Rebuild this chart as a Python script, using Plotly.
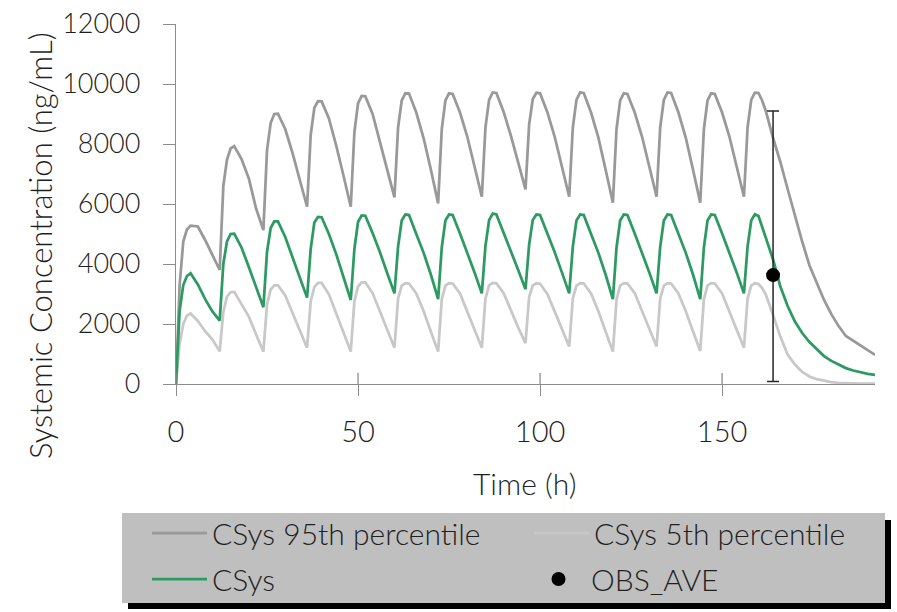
import plotly.graph_objects as go

# ---------------- data ----------------
TIME = [
    0, 1, 2, 3, 4, 6, 8, 10,
    12, 13, 14, 15, 16, 18, 20, 22,
    24, 25, 26, 27, 28, 30, 32, 34,
    36, 37, 38, 39, 40, 42, 44, 46,
    48, 49, 50, 51, 52, 54, 56, 58,
    60, 61, 62, 63, 64, 66, 68, 70,
    72, 73, 74, 75, 76, 78, 80, 82,
    84, 85, 86, 87, 88, 90, 92, 94,
    96, 97, 98, 99, 100, 102, 104, 106,
    108, 109, 110, 111, 112, 114, 116, 118,
    120, 121, 122, 123, 124, 126, 128, 130,
    132, 133, 134, 135, 136, 138, 140, 142,
    144, 145, 146, 147, 148, 150, 152, 154,
    156, 157, 158, 159, 160, 161, 162, 164, 166, 168, 170, 172, 174, 176,
    178, 180, 182, 184, 186, 188, 190, 192,
]

CSYS_P95 = [
    0, 3300, 4750, 5150, 5280, 5250, 4800, 4300,
    3800, 6600, 7470, 7850, 7930, 7500, 6850, 5850,
    5130, 7800, 8700, 9000, 9010, 8500, 7700, 6800,
    5910, 8300, 9200, 9430, 9420, 8850, 7950, 6950,
    5910, 8400, 9350, 9600, 9590, 9000, 8100, 7150,
    6220, 8550, 9450, 9690, 9680, 9050, 8200, 7150,
    6020, 8500, 9450, 9690, 9670, 9050, 8250, 7250,
    6240, 8550, 9470, 9720, 9700, 9070, 8270, 7380,
    6490, 8650, 9500, 9710, 9690, 9060, 8250, 7250,
    6240, 8550, 9470, 9720, 9700, 9050, 8220, 7150,
    6040, 8500, 9450, 9690, 9670, 9050, 8250, 7250,
    6240, 8550, 9470, 9720, 9700, 9050, 8220, 7150,
    6040, 8500, 9450, 9690, 9670, 9050, 8250, 7250,
    6240, 8550, 9470, 9710, 9700, 9450, 9100, 8200, 7400, 6500, 5600, 4750, 3950, 3350,
    2800, 2330, 1930, 1600, 1450, 1300, 1130, 970,
]

CSYS_P05 = [
    0, 1350, 2000, 2280, 2350, 2100, 1760, 1480,
    1090, 2400, 2910, 3060, 3070, 2650, 2250, 1650,
    1080, 2650, 3150, 3290, 3290, 2950, 2350, 1780,
    1210, 2750, 3230, 3370, 3370, 2990, 2370, 1720,
    1080, 2750, 3250, 3390, 3390, 3030, 2420, 1800,
    1210, 2850, 3280, 3360, 3350, 3020, 2430, 1750,
    1080, 2820, 3280, 3360, 3350, 3020, 2430, 1800,
    1210, 2850, 3290, 3370, 3360, 3030, 2450, 1880,
    1360, 2900, 3290, 3360, 3340, 3000, 2420, 1820,
    1250, 2850, 3280, 3360, 3350, 3020, 2430, 1750,
    1080, 2820, 3280, 3360, 3350, 3030, 2440, 1810,
    1250, 2850, 3280, 3360, 3350, 3020, 2430, 1760,
    1100, 2830, 3280, 3360, 3350, 3020, 2430, 1800,
    1210, 2850, 3280, 3360, 3330, 3200, 2980, 2300, 1580, 980, 650, 400, 250, 160,
    100, 60, 40, 25, 18, 14, 11, 10,
]

CSYS = [
    0, 2450, 3300, 3600, 3690, 3320, 2830, 2420,
    2110, 4000, 4750, 5000, 5010, 4550, 3900, 3200,
    2560, 4400, 5200, 5420, 5420, 4900, 4200, 3550,
    2880, 4500, 5380, 5570, 5560, 5000, 4330, 3600,
    2800, 4500, 5400, 5620, 5610, 5030, 4400, 3700,
    3020, 4580, 5450, 5650, 5630, 5000, 4380, 3650,
    2830, 4550, 5450, 5650, 5630, 5020, 4400, 3720,
    3020, 4600, 5460, 5680, 5650, 5050, 4450, 3800,
    3160, 4650, 5470, 5650, 5630, 5020, 4400, 3720,
    3020, 4580, 5450, 5650, 5630, 5000, 4380, 3650,
    2830, 4550, 5450, 5650, 5630, 5020, 4400, 3720,
    3020, 4580, 5450, 5650, 5630, 5000, 4380, 3650,
    2830, 4550, 5450, 5650, 5630, 5020, 4400, 3720,
    3020, 4580, 5450, 5660, 5600, 5250, 4900, 4150, 3250, 2600, 2080, 1700, 1400, 1150,
    930, 770, 640, 530, 450, 390, 340, 300,
]

OBS_TIME = [164]
OBS_AVE = [3630]
OBS_UPPER = [9100]
OBS_LOWER = [80]

X_TICKS = [0, 50, 100, 150]
Y_TICKS = [0, 2000, 4000, 6000, 8000, 10000, 12000]
X_RANGE = [0, 192]
Y_RANGE = [0, 12000]

NAMES = ["CSys 95th percentile", "CSys 5th percentile", "CSys", "OBS_AVE"]

# ---------------- styling ----------------
FONT = "Lato"
FW = 300
TXT = "#1f1f1f"
AX = "#8c8c8c"
C95 = "#999999"
C05 = "#c8c8c8"
CG = "#2e9a63"

W, H = 897, 612
ML, MR, MT, MB = 176, 22, 24, 228
PW, PH = W - ML - MR, H - MT - MB


def px(x):
    return (x - ML) / PW


def py(y):
    return (H - MB - y) / PH


def fnt(size):
    return dict(family=FONT, size=size, color=TXT, weight=FW)


fig = go.Figure()
fig.add_trace(go.Scatter(x=TIME, y=CSYS_P95, mode="lines", name=NAMES[0],
                         line=dict(color=C95, width=2.75), legend="legend"))
fig.add_trace(go.Scatter(x=TIME, y=CSYS_P05, mode="lines", name=NAMES[1],
                         line=dict(color=C05, width=2.75), legend="legend2"))
fig.add_trace(go.Scatter(x=TIME, y=CSYS, mode="lines", name=NAMES[2],
                         line=dict(color=CG, width=2.75), legend="legend3"))
obs_plus = [u - m for u, m in zip(OBS_UPPER, OBS_AVE)]
obs_minus = [m - l for m, l in zip(OBS_AVE, OBS_LOWER)]
fig.add_trace(go.Scatter(x=OBS_TIME, y=OBS_AVE, mode="markers", name=NAMES[3],
                         marker=dict(color="black", size=14),
                         error_y=dict(type="data", array=obs_plus, arrayminus=obs_minus,
                                      color="#262626", thickness=1.5, width=6),
                         legend="legend4"))


def leg(xp, yp):
    return dict(x=px(xp), y=py(yp), xanchor="left", yanchor="middle",
                bgcolor="rgba(0,0,0,0)", borderwidth=0, font=fnt(30),
                itemwidth=55, orientation="v")


shapes = [
    dict(type="rect", xref="paper", yref="paper", x0=px(128), x1=px(891),
         y0=py(609), y1=py(520), fillcolor="black", line=dict(width=0), layer="above"),
    dict(type="rect", xref="paper", yref="paper", x0=px(122), x1=px(885),
         y0=py(603), y1=py(513), fillcolor="#bfbfbf", line=dict(width=0), layer="above"),
]
# inside half of the crossing x ticks
for t in X_TICKS:
    shapes.append(dict(type="line", xref="x", yref="paper", x0=t, x1=t, y0=0, y1=11 / PH,
                       line=dict(color=AX, width=1.3), layer="above"))

fig.update_layout(
    width=W, height=H,
    margin=dict(l=ML, r=MR, t=MT, b=MB, autoexpand=False),
    paper_bgcolor="white", plot_bgcolor="white",
    font=fnt(28),
    showlegend=True,
    legend=leg(147, 533),
    legend2=leg(529, 533),
    legend3=leg(147, 579),
    legend4=leg(526, 579),
    shapes=shapes,
    xaxis=dict(range=X_RANGE, tickvals=X_TICKS, ticks="outside", ticklen=11,
               tickcolor=AX, tickwidth=1.3, showline=True, linecolor=AX, linewidth=1.3,
               showgrid=False, zeroline=False, ticklabelstandoff=11,
               tickfont=fnt(29)),
    yaxis=dict(range=Y_RANGE, tickvals=Y_TICKS, tickformat="d", ticks="outside", ticklen=12,
               tickcolor=AX, tickwidth=1.3, showline=True, linecolor=AX, linewidth=1.3,
               showgrid=False, zeroline=False, ticklabelstandoff=17,
               tickfont=fnt(27)),
    annotations=[
        dict(text="Systemic Concentration (ng/mL)", textangle=-90, xref="paper", yref="paper",
             x=px(40), y=py(246), xanchor="center", yanchor="middle", showarrow=False,
             font=fnt(31)),
        dict(text="Time (h)", xref="paper", yref="paper", x=px(524), y=py(483),
             xanchor="center", yanchor="middle", showarrow=False, font=fnt(30)),
    ],
)

fig.write_html("out.html", config={"displayModeBar": False},
               post_script="document.body.style.margin='0';")
